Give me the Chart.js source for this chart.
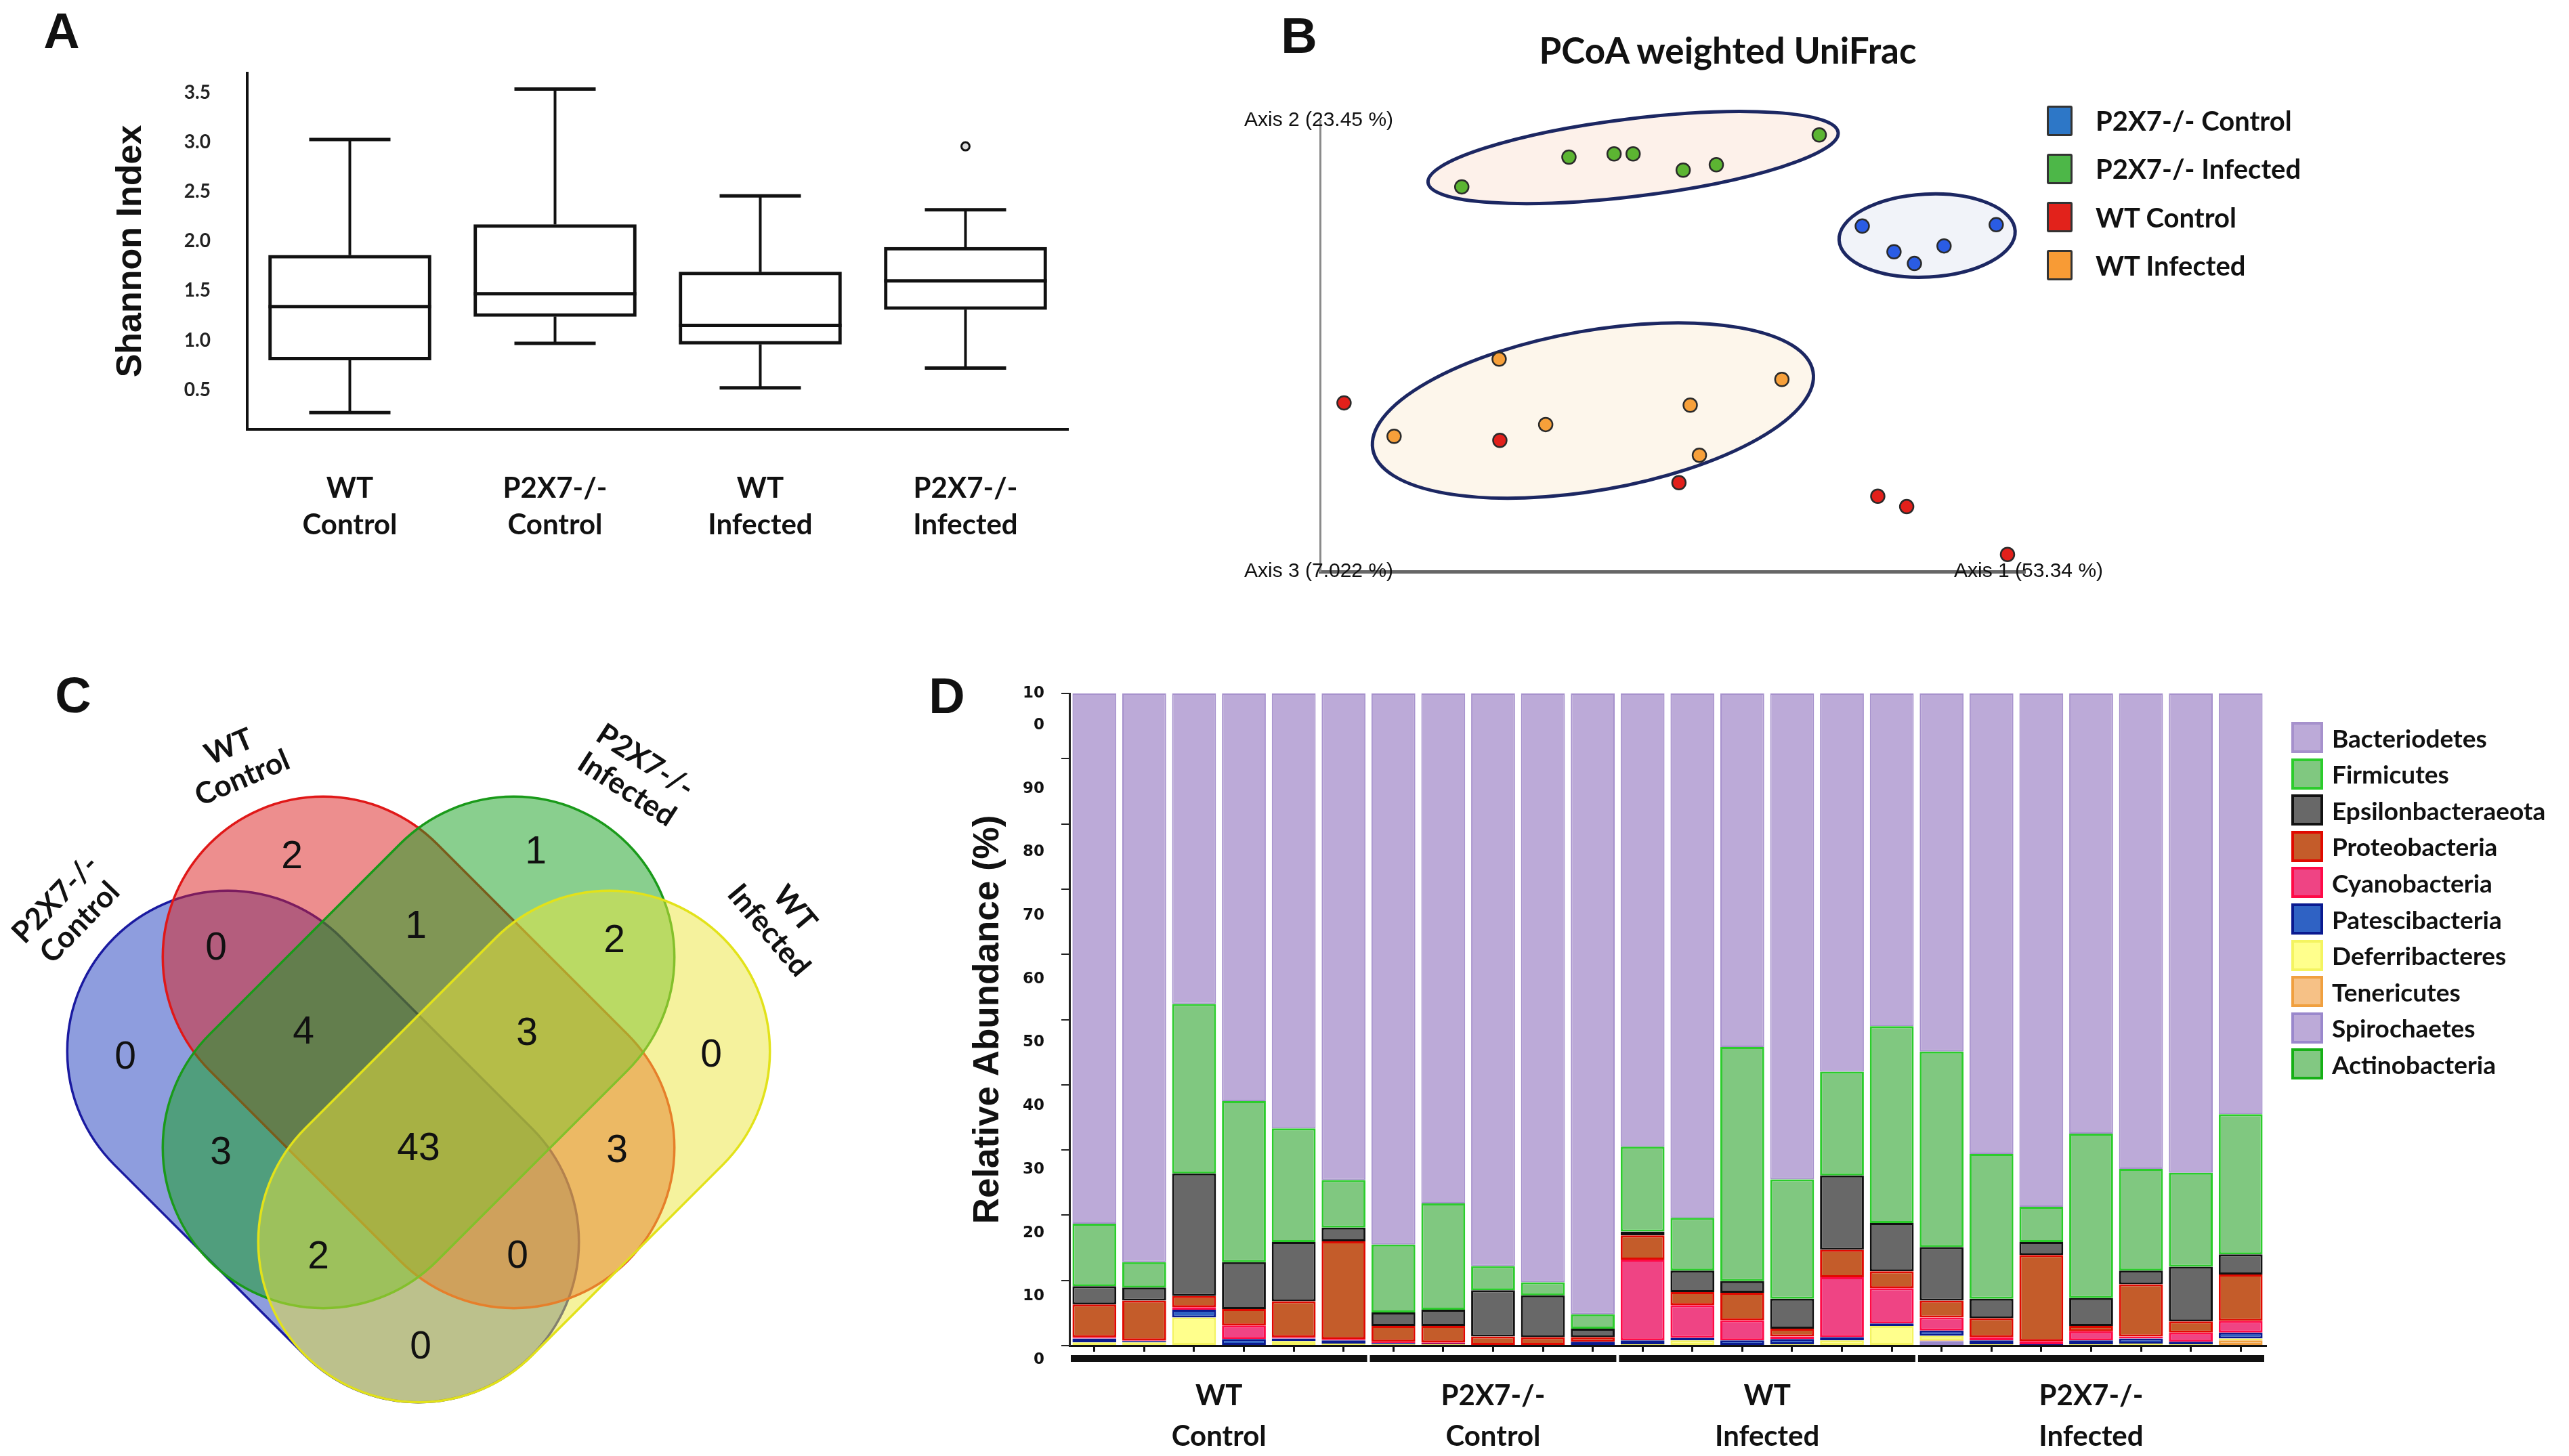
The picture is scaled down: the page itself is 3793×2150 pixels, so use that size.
<!DOCTYPE html>
<html>
<head>
<meta charset="utf-8">
<script src="https://cdn.jsdelivr.net/npm/chart.js@4.4.1/dist/chart.umd.min.js"></script>
<style>
  body { margin: 0; background: #fff; }
  #page { position: relative; width: 3793px; height: 2150px; overflow: hidden; background: #fff; }
  .panel { position: absolute; }
  .txt { position: absolute; transform: translate(-50%, -50%); line-height: 1; white-space: nowrap; color: #111; }
  .letter { font-family: 'Liberation Sans', Arial, sans-serif; font-weight: bold; font-size: 74px; }
  .title { font-family: Lato, sans-serif; font-weight: bold; font-size: 53px; }
  .lrow { position: absolute; display: flex; align-items: center; font-family: Lato, sans-serif; font-weight: bold; color: #111; white-space: nowrap; }
  .lrow .box { display: inline-block; box-sizing: border-box; }
</style>
</head>
<body>
<div id="page">
  <div class="panel" style="left:0;top:0;width:1650px;height:850px"><canvas id="chartA"></canvas></div>
  <div class="panel" style="left:1750px;top:0;width:2043px;height:900px"><canvas id="chartB"></canvas></div>
  <div class="panel" style="left:0;top:950px;width:1350px;height:1200px"><canvas id="chartC"></canvas></div>
  <div class="panel" style="left:1350px;top:950px;width:2443px;height:1200px"><canvas id="chartD"></canvas></div>

  <div class="txt letter" style="left:91px;top:46px">A</div>
  <div class="txt letter" style="left:1918px;top:53px">B</div>
  <div class="txt letter" style="left:108px;top:1027px">C</div>
  <div class="txt letter" style="left:1398px;top:1028px">D</div>
  <div class="txt title" style="left:2551px;top:73px">PCoA weighted UniFrac</div>
  <div id="legendB"></div>
  <div id="legendD"></div>
</div>
<script>
Chart.defaults.animation = false;
Chart.defaults.plugins.tooltip.enabled = false;
Chart.defaults.plugins.legend.display = false;
Chart.defaults.maintainAspectRatio = false;
Chart.defaults.color = '#111';

// ---------- A: Shannon index box plot ----------
const shannonGroups = [['WT', 'Control'], ['P2X7-/-', 'Control'], ['WT', 'Infected'], ['P2X7-/-', 'Infected']];
const shannonMin = [0.27, 0.97, 0.52, 0.72];
const shannonQ1 = [0.80, 1.24, 0.96, 1.31];
const shannonMedian = [1.34, 1.47, 1.15, 1.60];
const shannonQ3 = [1.86, 2.17, 1.69, 1.94];
const shannonMax = [3.03, 3.54, 2.46, 2.32];
const shannonOutliers = [null, null, null, 2.96];
const shannonTicks = [0.5, 1.0, 1.5, 2.0, 2.5, 3.0, 3.5];

// ---------- B: PCoA ----------
const pcoaGroups = ['P2X7-/- Control', 'P2X7-/- Infected', 'WT Control', 'WT Infected'];
const pcoaColors = ['#2a5ce4', '#5cb532', '#e2201b', '#f7a03a'];
const pcoaLegendColors = ['#2d77c7', '#4db748', '#e2221b', '#f89b35'];
const koControlX = [0.769, 0.814, 0.843, 0.885, 0.959];
const koControlY = [0.766, 0.709, 0.683, 0.722, 0.769];
const koInfectedX = [0.201, 0.353, 0.417, 0.444, 0.515, 0.562, 0.708];
const koInfectedY = [0.853, 0.919, 0.926, 0.926, 0.890, 0.902, 0.968];
const wtControlX = [0.034, 0.255, 0.509, 0.791, 0.832, 0.975];
const wtControlY = [0.374, 0.291, 0.197, 0.167, 0.144, 0.038];
const wtInfectedX = [0.105, 0.254, 0.320, 0.525, 0.538, 0.655];
const wtInfectedY = [0.300, 0.471, 0.326, 0.369, 0.258, 0.426];
const pcoaX = [koControlX, koInfectedX, wtControlX, wtInfectedX];
const pcoaY = [koControlY, koInfectedY, wtControlY, wtInfectedY];
const pcoaAxisTitles = ['Axis 1 (53.34 %)', 'Axis 2 (23.45 %)', 'Axis 3 (7.022 %)'];
// cluster ellipses: P2X7-/- Infected, P2X7-/- Control, WT Infected
const ellipseCx = [0.444, 0.861, 0.387];
const ellipseCy = [0.918, 0.745, 0.357];
const ellipseRx = [0.293, 0.125, 0.317];
const ellipseRy = [0.086, 0.092, 0.177];
const ellipseAngle = [-7, -3, -10];
const ellipseFill = ['#fdf1ea', '#f1f3f9', '#fdf6eb'];

// ---------- C: Venn ----------
const vennSets = [['P2X7-/-', 'Control'], ['WT', 'Control'], ['P2X7-/-', 'Infected'], ['WT', 'Infected']];
const vennCounts = [2, 1, 0, 1, 2, 0, 4, 3, 0, 3, 43, 3, 2, 0, 0];
const vennCountX = [431, 791, 319, 614, 907, 185, 448, 778, 1050, 326, 618, 911, 470, 764, 621];
const vennCountY = [316, 309, 451, 419, 440, 612, 575, 577, 609, 753, 747, 750, 907, 906, 1040];
const vennCx = [477, 618, 618, 759];
const vennCy = [743, 604, 604, 743];
const vennTilt = [45, 45, -45, -45];
const vennFill = ['rgba(30,60,190,0.5)', 'rgba(220,30,30,0.5)', 'rgba(20,160,30,0.5)', 'rgba(235,230,60,0.5)'];
const vennStroke = ['#1a1aa0', '#e01818', '#1a9a1a', '#e2e21a'];
const vennLabelX = [100, 348, 939, 1154];
const vennLabelY = [395, 176, 195, 408];
const vennLabelAngle = [-46, -23, 33, 50];

// ---------- D: relative abundance ----------
const sampleLabels = ['WT-C1', 'WT-C2', 'WT-C3', 'WT-C4', 'WT-C5', 'WT-C6',
  'KO-C1', 'KO-C2', 'KO-C3', 'KO-C4', 'KO-C5',
  'WT-I1', 'WT-I2', 'WT-I3', 'WT-I4', 'WT-I5', 'WT-I6',
  'KO-I1', 'KO-I2', 'KO-I3', 'KO-I4', 'KO-I5', 'KO-I6', 'KO-I7'];
const groupNames = [['WT', 'Control'], ['P2X7-/-', 'Control'], ['WT', 'Infected'], ['P2X7-/-', 'Infected']];
const groupSizes = [6, 5, 6, 7];
const abundanceLabels = [0, 10, 20, 30, 40, 50, 60, 70, 80, 90, 100];

const actinobacteria = [0, 0, 0, 0, 0, 0, 0, 0, 0, 0, 0, 0, 0, 0, 0, 0, 0, 0, 0, 0, 0, 0, 0, 0];
const spirochaetes = [0, 0, 0, 0, 0, 0, 0, 0, 0, 0, 0, 0, 0, 0, 0, 0, 0, 0.7, 0, 0, 0, 0, 0, 0];
const tenericutes = [0, 0, 0, 0, 0, 0, 0, 0, 0, 0, 0, 0, 0, 0, 0, 0, 0, 0.1, 0, 0, 0, 0, 0, 0.8];
const deferribacteres = [0.5, 0.5, 4.3, 0, 0.7, 0.3, 0.2, 0.2, 0, 0, 0, 0.2, 0.8, 0, 0.2, 0.8, 3.0, 0.7, 0.2, 0, 0.2, 0.3, 0.2, 0.3];
const patescibacteria = [0.6, 0.2, 1.2, 1.0, 0.4, 0.5, 0.2, 0.1, 0, 0, 0.6, 0.6, 0.4, 0.8, 0.8, 0.5, 0.4, 0.8, 0.6, 0.2, 0.6, 0.8, 0.4, 0.9];
const cyanobacteria = [0.2, 0.1, 0.4, 2.1, 0.2, 0.2, 0.2, 0.2, 0, 0, 0, 12.4, 5.0, 3.1, 0.4, 9.2, 5.4, 2.0, 0.5, 0.5, 1.4, 0.3, 1.4, 1.8];
const proteobacteria = [5.0, 6.1, 1.7, 2.5, 5.5, 15.0, 2.4, 2.5, 1.4, 1.3, 0.7, 3.7, 2.0, 4.2, 1.2, 4.2, 2.6, 2.6, 2.9, 13.2, 0.8, 8.0, 1.7, 7.1];
const epsilonbacteraeota = [2.8, 2.0, 18.8, 7.2, 9.1, 2.1, 2.1, 2.5, 7.1, 6.4, 1.3, 0.6, 3.3, 1.8, 4.6, 11.4, 7.4, 8.2, 3.0, 2.0, 4.3, 2.1, 8.4, 3.1];
const firmicutes = [9.6, 3.9, 26.0, 24.7, 17.4, 7.3, 10.4, 16.3, 3.7, 2.0, 2.2, 13.0, 8.1, 35.9, 18.3, 15.9, 30.2, 30.0, 22.2, 5.4, 25.2, 15.6, 14.4, 21.5];
const bacteroidetes = [81.3, 87.2, 47.6, 62.5, 66.7, 74.6, 84.5, 78.2, 87.8, 90.3, 95.2, 69.5, 80.4, 54.2, 74.5, 58.0, 51.0, 54.9, 70.6, 78.7, 67.5, 72.9, 73.5, 64.5];

// stacked bottom-up
const phyla = [
  { name: 'Actinobacteria', values: actinobacteria, fill: '#82c882', edge: '#16b016' },
  { name: 'Spirochaetes', values: spirochaetes, fill: '#bcaad8', edge: '#9a88cc' },
  { name: 'Tenericutes', values: tenericutes, fill: '#f6c186', edge: '#f0a040' },
  { name: 'Deferribacteres', values: deferribacteres, fill: '#ffff8c', edge: '#f4f460' },
  { name: 'Patescibacteria', values: patescibacteria, fill: '#2f62c4', edge: '#0a1a90' },
  { name: 'Cyanobacteria', values: cyanobacteria, fill: '#ef4484', edge: '#ff0a48' },
  { name: 'Proteobacteria', values: proteobacteria, fill: '#c45c2a', edge: '#e00a00' },
  { name: 'Epsilonbacteraeota', values: epsilonbacteraeota, fill: '#686868', edge: '#111111' },
  { name: 'Firmicutes', values: firmicutes, fill: '#80c880', edge: '#2ccc2c' },
  { name: 'Bacteriodetes', values: bacteroidetes, fill: '#bcaad8', edge: '#a691cc' }
];

// ================= Panel A =================
const boxWhiskers = {
  id: 'boxWhiskers',
  afterDatasetsDraw(chart) {
    const { ctx, scales: { x, y } } = chart;
    const bars = chart.getDatasetMeta(0).data;
    const seg = (x1, y1, x2, y2) => { ctx.beginPath(); ctx.moveTo(x1, y1); ctx.lineTo(x2, y2); ctx.stroke(); };
    ctx.save();
    ctx.strokeStyle = '#111';
    shannonMedian.forEach((m, i) => {
      const cx = x.getPixelForValue(i);
      const hw = bars[i].width / 2;
      const cap = hw / 2;
      ctx.lineWidth = 5;
      seg(cx - hw, y.getPixelForValue(m), cx + hw, y.getPixelForValue(m));
      seg(cx - cap, y.getPixelForValue(shannonMax[i]), cx + cap, y.getPixelForValue(shannonMax[i]));
      seg(cx - cap, y.getPixelForValue(shannonMin[i]), cx + cap, y.getPixelForValue(shannonMin[i]));
      ctx.lineWidth = 4;
      seg(cx, y.getPixelForValue(shannonQ3[i]), cx, y.getPixelForValue(shannonMax[i]));
      seg(cx, y.getPixelForValue(shannonQ1[i]), cx, y.getPixelForValue(shannonMin[i]));
    });
    ctx.restore();
  }
};

new Chart(document.getElementById('chartA'), {
  type: 'bar',
  data: {
    labels: shannonGroups,
    datasets: [{
      data: shannonQ1.map((q, i) => [q, shannonQ3[i]]),
      backgroundColor: '#fff',
      borderColor: '#111',
      borderWidth: 5,
      borderSkipped: false,
      barThickness: 240
    }, {
      type: 'line',
      data: shannonOutliers,
      showLine: false,
      pointRadius: 6,
      pointBackgroundColor: '#ddd',
      pointBorderColor: '#111',
      pointBorderWidth: 3
    }]
  },
  options: {
    layout: { padding: { left: 162, top: 108, right: 73, bottom: 0 } },
    scales: {
      x: {
        grid: { display: false, drawTicks: false },
        border: { display: true, color: '#111', width: 4 },
        ticks: { padding: 60, autoSkip: false, maxRotation: 0, color: '#111',
          font: { family: 'Lato', weight: 'bold', size: 42, lineHeight: 1.286 } },
        afterFit: s => { s.height = 216; }
      },
      y: {
        min: 0.1, max: 3.7,
        afterBuildTicks: s => { s.ticks = shannonTicks.map(v => ({ value: v })); },
        grid: { display: false, drawTicks: false },
        border: { display: true, color: '#111', width: 4 },
        ticks: { padding: 54, color: '#222', font: { family: 'Lato', weight: 'bold', size: 28 },
          callback: v => Number(v).toFixed(1) },
        title: { display: true, text: 'Shannon Index', padding: 0, color: '#111',
          font: { family: 'Liberation Sans', weight: 'bold', size: 52 } },
        afterFit: s => { s.width = 203; s.paddingTop = 0; s.paddingBottom = 0; }
      }
    }
  },
  plugins: [boxWhiskers]
});

// ================= Panel B =================
const pcoaDecor = {
  id: 'pcoaDecor',
  beforeDatasetsDraw(chart) {
    const { ctx, scales: { x, y } } = chart;
    const sx = x.getPixelForValue(1) - x.getPixelForValue(0);
    const sy = y.getPixelForValue(0) - y.getPixelForValue(1);
    ctx.save();
    ellipseCx.forEach((cx, i) => {
      ctx.beginPath();
      ctx.ellipse(x.getPixelForValue(cx), y.getPixelForValue(ellipseCy[i]),
        ellipseRx[i] * sx, ellipseRy[i] * sy, ellipseAngle[i] * Math.PI / 180, 0, Math.PI * 2);
      ctx.fillStyle = ellipseFill[i];
      ctx.fill();
      ctx.lineWidth = 5;
      ctx.strokeStyle = '#1c2762';
      ctx.stroke();
    });
    ctx.restore();
  },
  afterDraw(chart) {
    const { ctx, scales: { x, y } } = chart;
    ctx.save();
    ctx.font = '30px "Liberation Sans", Arial, sans-serif';
    ctx.fillStyle = '#111';
    ctx.textAlign = 'center';
    ctx.textBaseline = 'middle';
    ctx.fillText(pcoaAxisTitles[0], x.getPixelForValue(1) + 5, y.getPixelForValue(0));
    ctx.fillText(pcoaAxisTitles[1], x.getPixelForValue(0) - 2, y.getPixelForValue(1));
    ctx.fillText(pcoaAxisTitles[2], x.getPixelForValue(0) - 2, y.getPixelForValue(0));
    ctx.restore();
  }
};

new Chart(document.getElementById('chartB'), {
  type: 'scatter',
  data: {
    datasets: pcoaGroups.map((name, g) => ({
      label: name,
      data: pcoaX[g].map((v, i) => ({ x: v, y: pcoaY[g][i] })),
      pointRadius: 10,
      pointBackgroundColor: pcoaColors[g],
      pointBorderColor: '#2a2a2a',
      pointBorderWidth: 2.5,
      clip: false
    }))
  },
  options: {
    layout: { padding: { left: 199, right: 803, top: 178, bottom: 56 } },
    scales: {
      x: {
        type: 'linear', min: 0, max: 1,
        grid: { display: false, drawTicks: false },
        ticks: { display: false },
        border: { display: true, color: '#666', width: 5 },
        afterFit: s => { s.height = 0; s.paddingLeft = 0; s.paddingRight = 0; }
      },
      y: {
        type: 'linear', min: 0, max: 1,
        grid: { display: false, drawTicks: false },
        ticks: { display: false },
        border: { display: true, color: '#8a8a8a', width: 3 },
        afterFit: s => { s.width = 0; s.paddingTop = 0; s.paddingBottom = 0; }
      }
    }
  },
  plugins: [pcoaDecor]
});

// legend B
const legendB = document.getElementById('legendB');
pcoaGroups.forEach((name, g) => {
  const row = document.createElement('div');
  row.className = 'lrow';
  row.style.left = '3022px';
  row.style.top = (178 - 23 + g * 71.3) + 'px';
  row.style.height = '46px';
  row.style.fontSize = '40px';
  row.innerHTML = `<span class="box" style="width:38px;height:45px;background:${pcoaLegendColors[g]};border:3px solid #333;border-radius:3px"></span><span style="margin-left:34px">${name}</span>`;
  legendB.appendChild(row);
});

// ================= Panel C =================
const vennDecor = {
  id: 'vennDecor',
  beforeDatasetsDraw(chart) {
    const { ctx, scales: { x, y } } = chart;
    const k = x.getPixelForValue(1) - x.getPixelForValue(0);
    const d = 199 * k, r = 237 * k;
    vennCx.forEach((cx, i) => {
      ctx.save();
      ctx.translate(x.getPixelForValue(cx), y.getPixelForValue(vennCy[i]));
      ctx.rotate(vennTilt[i] * Math.PI / 180);
      ctx.beginPath();
      ctx.arc(d, 0, r, -Math.PI / 2, Math.PI / 2);
      ctx.arc(-d, 0, r, Math.PI / 2, Math.PI * 1.5);
      ctx.closePath();
      ctx.fillStyle = vennFill[i];
      ctx.fill();
      ctx.lineWidth = 3.5;
      ctx.strokeStyle = vennStroke[i];
      ctx.stroke();
      ctx.restore();
    });
  },
  afterDatasetsDraw(chart) {
    const { ctx, scales: { x, y } } = chart;
    const pts = chart.getDatasetMeta(0).data;
    ctx.save();
    ctx.fillStyle = '#111';
    ctx.textAlign = 'center';
    ctx.textBaseline = 'middle';
    ctx.font = '57px "Liberation Sans", Arial, sans-serif';
    pts.forEach((p, i) => ctx.fillText(String(vennCounts[i]), p.x, p.y));
    ctx.font = 'bold 44px Lato, sans-serif';
    vennSets.forEach((lines, i) => {
      ctx.save();
      ctx.translate(x.getPixelForValue(vennLabelX[i]), y.getPixelForValue(vennLabelY[i]));
      ctx.rotate(vennLabelAngle[i] * Math.PI / 180);
      ctx.fillText(lines[0], 0, -25);
      ctx.fillText(lines[1], 0, 25);
      ctx.restore();
    });
    ctx.restore();
  }
};

new Chart(document.getElementById('chartC'), {
  type: 'scatter',
  data: {
    datasets: [{ data: vennCountX.map((v, i) => ({ x: v, y: vennCountY[i] })), pointRadius: 0 }]
  },
  options: {
    layout: { padding: 0 },
    scales: {
      x: { type: 'linear', min: 0, max: 1350, display: false },
      y: { type: 'linear', min: 0, max: 1200, reverse: true, display: false }
    }
  },
  plugins: [vennDecor]
});

// ================= Panel D =================
const groupDecor = {
  id: 'groupDecor',
  afterDraw(chart) {
    const { ctx, chartArea, scales: { x } } = chart;
    const half = (x.getPixelForValue(1) - x.getPixelForValue(0)) / 2;
    ctx.save();
    ctx.fillStyle = '#111';
    ctx.textAlign = 'center';
    ctx.textBaseline = 'middle';
    ctx.font = 'bold 42px Lato, sans-serif';
    let start = 0;
    groupSizes.forEach((n, g) => {
      const x0 = x.getPixelForValue(start) - half + 2;
      const x1 = x.getPixelForValue(start + n - 1) + half - 2;
      ctx.fillRect(x0, chartArea.bottom + 14, x1 - x0, 10);
      const mid = (x0 + x1) / 2;
      ctx.fillText(groupNames[g][0], mid, chartArea.bottom + 74);
      ctx.fillText(groupNames[g][1], mid, chartArea.bottom + 134);
      start += n;
    });
    ctx.restore();
  }
};

new Chart(document.getElementById('chartD'), {
  type: 'bar',
  data: {
    labels: sampleLabels,
    datasets: phyla.map(p => ({
      label: p.name,
      data: p.values,
      backgroundColor: p.fill,
      borderColor: p.edge,
      borderWidth: p.name === 'Bacteriodetes' ? 2 : 3,
      borderSkipped: false,
      categoryPercentage: 0.88,
      barPercentage: 1
    }))
  },
  options: {
    layout: { padding: { left: 78, right: 448, top: 74, bottom: 154 } },
    scales: {
      x: {
        stacked: true,
        grid: { display: true, drawOnChartArea: false, offset: false, tickLength: 9, color: '#111', lineWidth: 3 },
        border: { display: true, color: '#111', width: 3 },
        ticks: { display: false },
        afterFit: s => { s.height = 9; s.paddingLeft = 0; s.paddingRight = 0; }
      },
      y: {
        stacked: true, min: 0, max: 100, position: 'left', weight: 0,
        ticks: { display: false, stepSize: 10 },
        grid: { display: true, drawOnChartArea: false, tickLength: 12, color: '#222', lineWidth: 2 },
        border: { display: true, color: '#222', width: 3 },
        afterFit: s => { s.width = 12; s.paddingTop = 0; s.paddingBottom = 0; }
      },
      y2: {
        type: 'linear', axis: 'y', position: 'left', weight: 1,
        min: 2.24, max: 105.0,
        grid: { display: false, drawTicks: false },
        border: { display: false },
        afterBuildTicks: s => { s.ticks = abundanceLabels.map(v => ({ value: v })); },
        ticks: {
          autoSkip: false, padding: 25, color: '#111',
          font: { family: 'DejaVu Sans', weight: 'bold', size: 23, lineHeight: 2.04 },
          callback: v => (v === 100 ? ['10', '0', ''] : String(v))
        },
        title: { display: true, text: 'Relative Abundance (%)', padding: 0, color: '#111',
          font: { family: 'Liberation Sans', weight: 'bold', size: 53 } },
        afterFit: s => { s.width = 139; s.paddingTop = 0; s.paddingBottom = 0; }
      }
    }
  },
  plugins: [groupDecor]
});

// legend D (top to bottom = reverse of stacking)
const legendD = document.getElementById('legendD');
phyla.slice().reverse().forEach((p, k) => {
  const row = document.createElement('div');
  row.className = 'lrow';
  row.style.left = '3383px';
  row.style.top = (1066 + k * 53.6) + 'px';
  row.style.height = '46px';
  row.style.fontSize = '37px';
  row.innerHTML = `<span class="box" style="width:47px;height:46px;background:${p.fill};border:4px solid ${p.edge}"></span><span style="margin-left:13px">${p.name}</span>`;
  legendD.appendChild(row);
});
</script>
</body>
</html>
